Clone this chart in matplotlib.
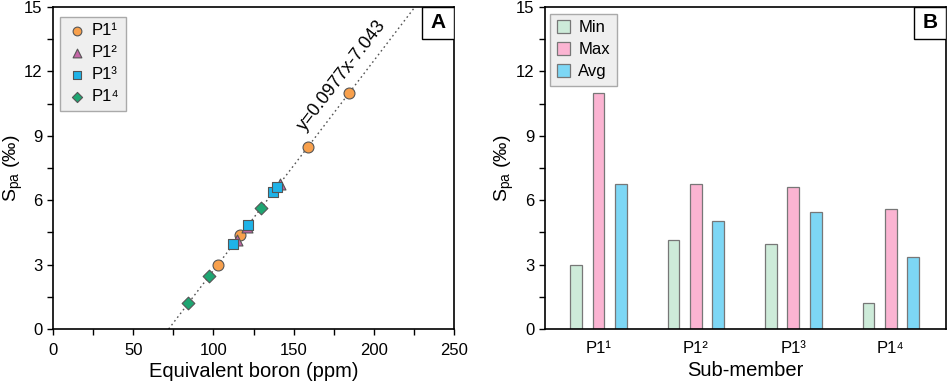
import matplotlib

matplotlib.use("Agg")
import matplotlib.pyplot as plt
import numpy as np
from matplotlib.patches import Rectangle
from matplotlib.ticker import MultipleLocator

plt.rcParams["font.family"] = ["Liberation Sans", "DejaVu Sans"]
plt.rcParams["mathtext.fontset"] = "custom"
plt.rcParams["mathtext.rm"] = "Liberation Sans"
plt.rcParams["mathtext.it"] = "Liberation Sans"

# Panel A: equivalent boron vs S_pa, by sub-member
p1_1_boron = [102.8, 116.7, 159.1, 184.8]
p1_1_spa = [3.0, 4.39, 8.49, 11.0]
p1_2_boron = [115.0, 120.8, 141.2]
p1_2_spa = [4.13, 4.74, 6.75]
p1_3_boron = [112.5, 121.3, 137.0, 139.9]
p1_3_spa = [3.98, 4.84, 6.37, 6.6]
p1_4_boron = [84.1, 97.0, 129.6]
p1_4_spa = [1.23, 2.45, 5.62]
fit_slope, fit_intercept = 0.0977, -7.043

# Panel B: min / max / avg per sub-member
submembers = ["P1¹", "P1²", "P1³", "P1⁴"]
spa_min = [3.0, 4.16, 3.98, 1.21]
spa_max = [11.0, 6.77, 6.62, 5.61]
spa_avg = [6.74, 5.02, 5.45, 3.34]


def style_axes(ax, label, label_x):
    for side in ax.spines.values():
        side.set_linewidth(1.2)
    ax.tick_params(which="both", direction="out", length=4, width=1.0, labelsize=12)
    ax.tick_params(axis="x", pad=6)
    ax.set_ylim(0, 15)
    ax.yaxis.set_major_locator(MultipleLocator(3))
    ax.yaxis.set_minor_locator(MultipleLocator(1.5))
    ax.set_ylabel("S$_{\\mathregular{pa}}$ (‰)", fontsize=14)
    ax.yaxis.set_label_coords(label_x, 0.5)
    ax.add_patch(Rectangle((0.92, 0.9), 0.08, 0.1, transform=ax.transAxes,
                           facecolor="white", edgecolor="black", linewidth=1.0, zorder=5))
    ax.text(0.96, 0.95, label, transform=ax.transAxes, ha="center", va="center",
            fontsize=15, fontweight="bold", zorder=6)


def grey_legend(ax, **kw):
    leg = ax.legend(loc="upper left", fontsize=12, frameon=True, fancybox=False,
                    framealpha=1, **kw)
    leg.get_frame().set_facecolor("#efefef")
    leg.get_frame().set_edgecolor("#aaaaaa")
    return leg


fig = plt.figure(figsize=(9.48, 3.83), dpi=100)
ax_a = fig.add_axes([0.0559, 0.141, 0.4231, 0.841])
ax_b = fig.add_axes([0.575, 0.141, 0.423, 0.841])

# --- A ---
xs = np.array([-fit_intercept / fit_slope, (15 - fit_intercept) / fit_slope])
ax_a.plot(xs, fit_slope * xs + fit_intercept, ls=(0, (1.2, 2.2)), color="#555555", lw=1.0, zorder=1)
marker_kw = dict(edgecolors="#555555", linewidths=0.8, zorder=3)
ax_a.scatter(p1_1_boron, p1_1_spa, marker="o", s=62, color="#f8a04c", label="P1¹", **marker_kw)
ax_a.scatter(p1_2_boron, p1_2_spa, marker="^", s=62, color="#c465a6", label="P1²", **marker_kw)
ax_a.scatter(p1_3_boron, p1_3_spa, marker="s", s=58, color="#1fb3e8", label="P1³", **marker_kw)
ax_a.scatter(p1_4_boron, p1_4_spa, marker="D", s=42, color="#1ea672", label="P1⁴", **marker_kw)
ax_a.text(180.2, 11.8, "y=0.0977x-7.043", rotation=52.6, rotation_mode="anchor",
          ha="center", va="center", fontsize=13)
ax_a.set_xlim(0, 250)
ax_a.xaxis.set_major_locator(MultipleLocator(50))
ax_a.xaxis.set_minor_locator(MultipleLocator(25))
ax_a.set_xlabel("Equivalent boron (ppm)", fontsize=14.5, labelpad=3)
style_axes(ax_a, "A", -0.07)
grey_legend(ax_a, bbox_to_anchor=(0.005, 0.985), handletextpad=0.3, borderpad=0.4,
            labelspacing=0.42, handlelength=1.2, markerscale=0.8, borderaxespad=0.3)

# --- B ---
pos = np.arange(1, len(submembers) + 1)
width, offset = 0.12, 0.23
bar_kw = dict(width=width, edgecolor="#777777", linewidth=0.9)
ax_b.bar(pos - offset, spa_min, color="#cdebd9", label="Min", **bar_kw)
ax_b.bar(pos, spa_max, color="#fbb4d2", label="Max", **bar_kw)
ax_b.bar(pos + offset, spa_avg, color="#7dd7f5", label="Avg", **bar_kw)
ax_b.set_xlim(0.452, 4.568)
ax_b.set_xticks(pos)
ax_b.set_xticklabels(submembers)
ax_b.set_xlabel("Sub-member", fontsize=14.5, labelpad=3)
style_axes(ax_b, "B", -0.072)
ax_b.tick_params(axis="x", which="both", length=0, pad=9)
grey_legend(ax_b, bbox_to_anchor=(0.0, 0.995), handletextpad=0.5, borderpad=0.4,
            labelspacing=0.4, handlelength=0.8, handleheight=0.8, borderaxespad=0.3)

fig.savefig("out.png", dpi=100)
